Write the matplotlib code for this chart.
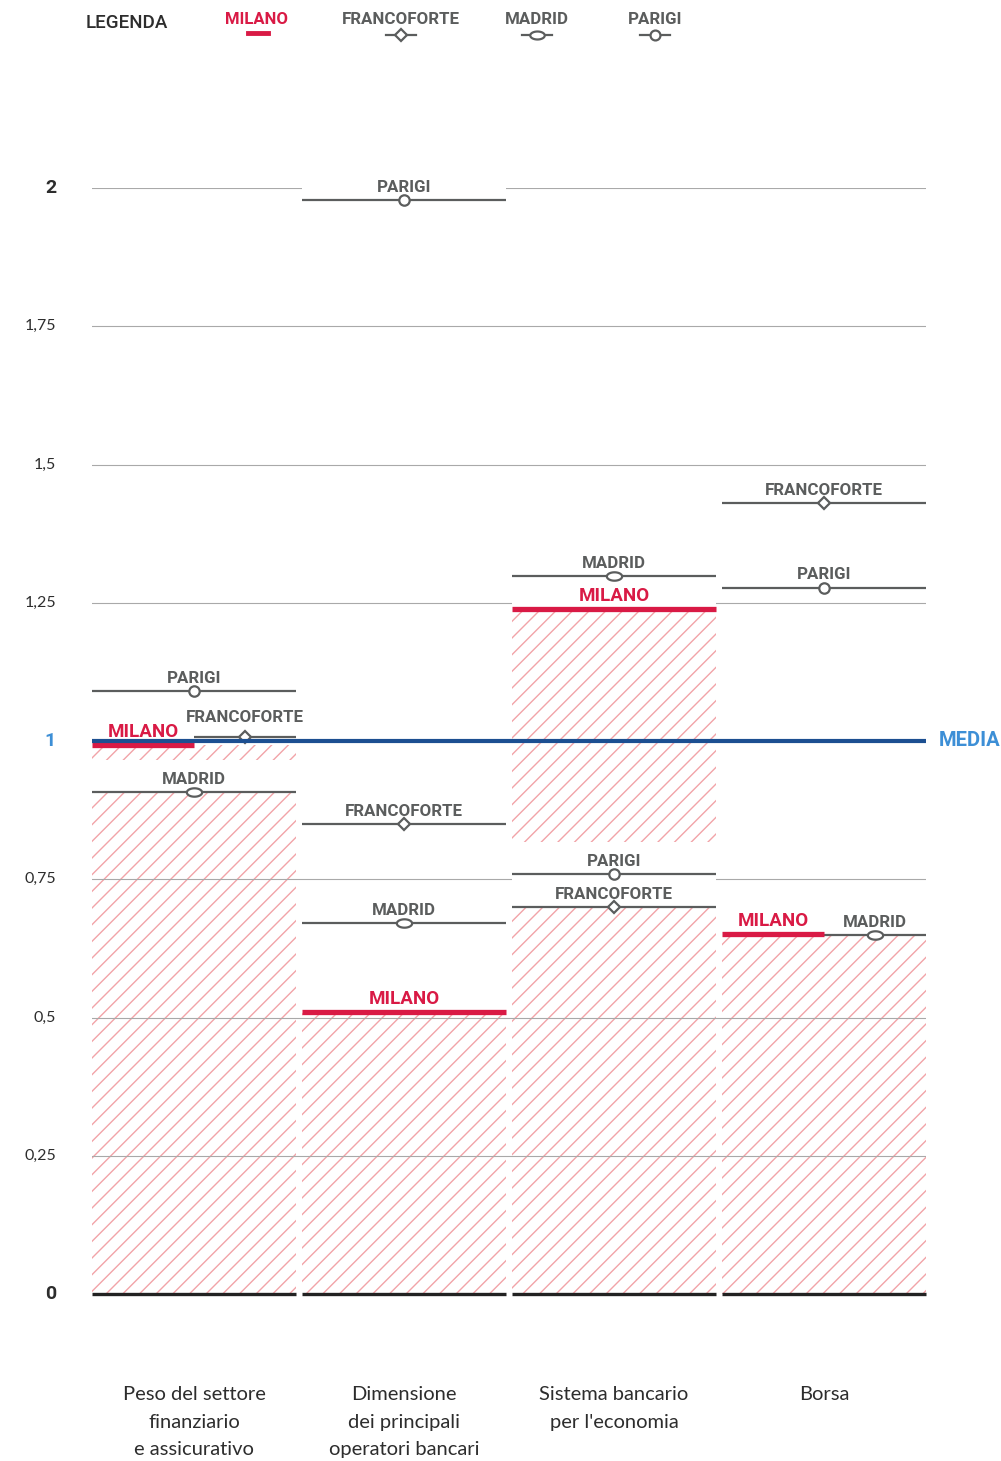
import matplotlib.pyplot as plt
import numpy as np
from matplotlib.path import Path
from matplotlib.patches import Rectangle

# data
categories = ['Peso del settore\nfinanziario\ne assicurativo',
              'Dimensione\ndei principali\noperatori bancari',
              "Sistema bancario\nper l'economia",
              'Borsa']
milano = [0.993, 0.51, 1.239, 0.651]
francoforte = [1.007, 0.85, 0.70, 1.43]
madrid = [0.908, 0.671, 1.298, 0.649]
parigi = [1.09, 1.978, 0.759, 1.277]
yticks = [0, 0.25, 0.5, 0.75, 1, 1.25, 1.5, 1.75, 2]
ytick_labels = ['0', '0,25', '0,5', '0,75', '1', '1,25', '1,5', '1,75', '2']

# which part of the column each line covers
spans = {
    'MILANO': ['left', 'full', 'full', 'left'],
    'FRANCOFORTE': ['right', 'full', 'full', 'full'],
    'MADRID': ['full', 'full', 'full', 'right'],
    'PARIGI': ['full', 'full', 'full', 'full'],
}

RED = '#d91a45'
GRAY = '#5b5d5d'
HATCH = '#f2a3a8'
BLUE = '#1c4f91'
LBLUE = '#3d8fd6'
DARK = '#2d2d2d'
BOLD = ['Roboto', 'DejaVu Sans']

plt.rcParams['font.family'] = ['Lato', 'DejaVu Sans']
plt.rcParams['hatch.linewidth'] = 1.0

W, H = 1001, 1461
fig = plt.figure(figsize=(W / 100, H / 100), dpi=100)
ax = fig.add_axes([92 / W, (H - 1294) / H, 834 / W, 1106 / H])
pitch = 210.0
cw = 204 / pitch
ax.set_xlim(0, 834 / pitch)
ax.set_ylim(0, 2)
ax.axis('off')

# ellipse marker
t = np.linspace(0, 2 * np.pi, 40)
ell = Path(np.column_stack([np.cos(t), 0.55 * np.sin(t)]), closed=True)
markers = {'FRANCOFORTE': ('D', 6.5), 'MADRID': (ell, 11), 'PARIGI': ('o', 7.5)}

def xr(i, span):
    if span == 'left':
        return i, i + cw / 2
    if span == 'right':
        return i + cw / 2, i + cw
    return i, i + cw

# hatched columns up to Milano
ax.bar(np.arange(4), milano, width=cw, align='edge', color='none',
       edgecolor=HATCH, hatch='//', linewidth=0, zorder=1)

# gridlines
for v in yticks[1:]:
    ax.plot([0, 834 / pitch], [v, v], color='#a9a9a9', lw=0.8, zorder=2)

# baselines
for i in range(4):
    ax.plot([i, i + cw], [0, 0], color='#222222', lw=2.4, zorder=5,
            solid_capstyle='butt', clip_on=False)

box_h = 32 / 553
extra_off = {('FRANCOFORTE', 0): 5}
series = [('MADRID', madrid), ('PARIGI', parigi), ('FRANCOFORTE', francoforte), ('MILANO', milano)]
for name, vals in series:
    for i, v in enumerate(vals):
        x0, x1 = xr(i, spans[name][i])
        ax.add_patch(Rectangle((x0, v), x1 - x0, box_h, facecolor='white',
                               edgecolor='none', zorder=3))
for name, vals in series:
    for i, v in enumerate(vals):
        x0, x1 = xr(i, spans[name][i])
        xc = (x0 + x1) / 2
        off = 6 + extra_off.get((name, i), 0)
        if name == 'MILANO':
            ax.plot([x0, x1], [v, v], color=RED, lw=3.8, zorder=7,
                    solid_capstyle='butt')
            ax.annotate(name, (xc, v), xytext=(0, off - 0.5), textcoords='offset points',
                        ha='center', va='baseline', color=RED, fontsize=13.5,
                        fontweight='bold', family=BOLD, zorder=8)
        else:
            m, ms = markers[name]
            ax.plot([x0, x1], [v, v], color=GRAY, lw=1.6, zorder=6,
                    solid_capstyle='butt')
            ax.plot([xc], [v], marker=m, ms=ms, mfc='white', mec=GRAY, mew=1.6,
                    zorder=7, linestyle='none')
            ax.annotate(name, (xc, v), xytext=(0, off), textcoords='offset points',
                        ha='center', va='baseline', color=GRAY, fontsize=12.2,
                        fontweight='bold', family=BOLD, zorder=8)

# media line
ax.plot([0, 834 / pitch], [1, 1], color=BLUE, lw=3, zorder=9, solid_capstyle='butt')
ax.text(840 / pitch + 0.03, 1, 'MEDIA', color=LBLUE, fontsize=14.5, fontweight='bold',
        family=BOLD, ha='left', va='center', clip_on=False)

# y tick labels
for v, lab in zip(yticks, ytick_labels):
    big = lab in ('0', '1', '2')
    col = LBLUE if lab == '1' else DARK
    fig.text(56 / W, (H - (1294 - v * 553)) / H, lab, ha='right', va='center',
             color=col, fontsize=14 if big else 11.5,
             fontweight='bold' if big else 'normal', family=BOLD if big else None)

# categories
for i, c in enumerate(categories):
    ax.text(i + cw / 2, -0.167, c, ha='center', va='top', color=DARK,
            fontsize=14.5, linespacing=1.75, clip_on=False)

# legend
def fy(y):
    return 1 - y / H

fig.text(86 / W, fy(23), 'LEGENDA', ha='left', va='center', color=DARK, fontsize=13.5,
         fontweight='medium', family=BOLD)
fig.text(257 / W, fy(20), 'MILANO', ha='center', va='center', color=RED,
         fontsize=12, fontweight='bold', family=BOLD)
fig.add_artist(plt.Line2D([248 / W, 268 / W], [fy(33), fy(33)], color=RED, lw=3.5))
for name, xc in [('FRANCOFORTE', 401), ('MADRID', 537), ('PARIGI', 655)]:
    fig.text(xc / W, fy(19), name, ha='center', va='center', color=GRAY,
             fontsize=12.2, fontweight='bold', family=BOLD)
    m, ms = markers[name]
    fig.add_artist(plt.Line2D([(xc - 15) / W, (xc + 15) / W], [fy(35), fy(35)],
                              color=GRAY, lw=1.6))
    fig.add_artist(plt.Line2D([xc / W], [fy(35)], marker=m, ms=ms * 0.95, mfc='white',
                              mec=GRAY, mew=1.6, linestyle='none'))

fig.savefig('out.png', dpi=100, facecolor='white')
